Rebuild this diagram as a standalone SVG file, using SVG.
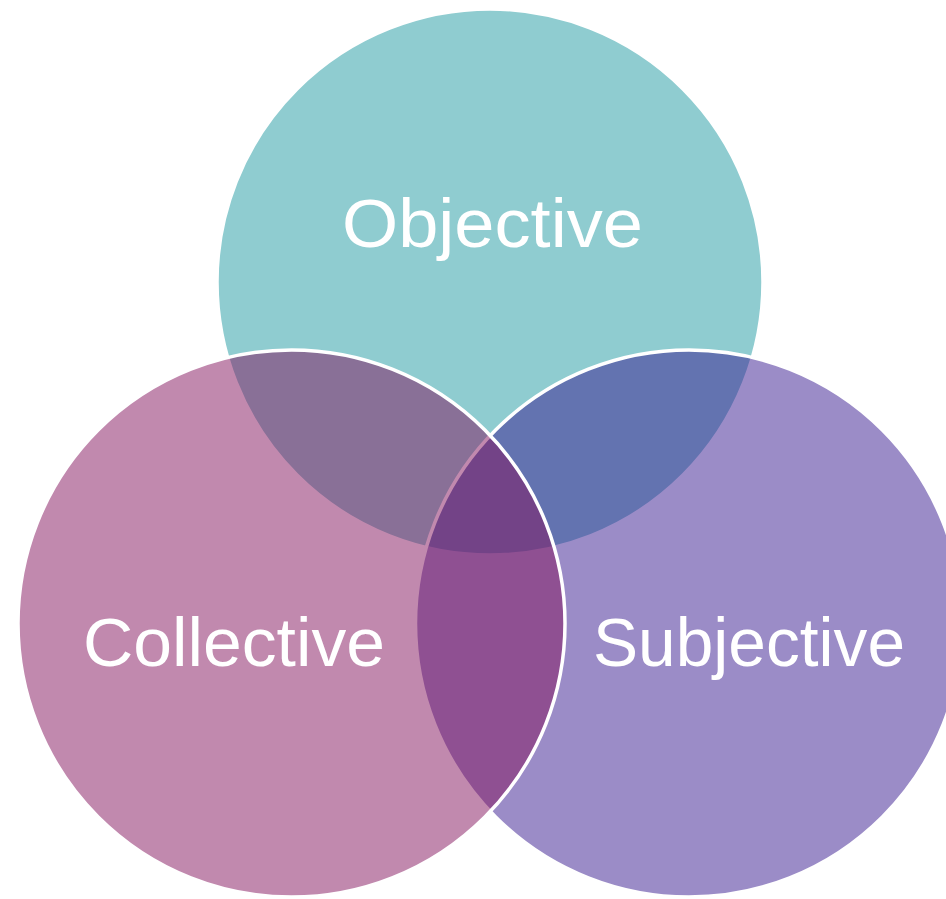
<svg xmlns="http://www.w3.org/2000/svg" width="946" height="899" viewBox="0 0 946 899">
  <style>
    .ring { stroke: #FFFFFF; stroke-width: 3.5; }
    .lbl { font-family: "Liberation Sans", Arial, sans-serif; font-size: 68px; fill: #FFFFFF; text-anchor: middle; }
  </style>
  <rect width="946" height="899" fill="#FFFFFF"/>
  <g id="connectors"></g>
  <g id="node-objective">
    <circle class="ring" cx="490" cy="282" r="273" fill="#8FCCD0"/>
  </g>
  <g id="node-subjective">
    <circle class="ring" cx="689" cy="623.5" r="273.5" fill="#37198F" fill-opacity="0.5"/>
  </g>
  <g id="node-collective">
    <circle class="ring" cx="291.5" cy="623.5" r="273.5" fill="#83135D" fill-opacity="0.5"/>
  </g>
  <g id="labels">
    <text class="lbl" x="492.5" y="247" textLength="301" lengthAdjust="spacingAndGlyphs">Objective</text>
    <text class="lbl" x="234" y="666" textLength="302" lengthAdjust="spacingAndGlyphs">Collective</text>
    <text class="lbl" x="749" y="666" textLength="312" lengthAdjust="spacingAndGlyphs">Subjective</text>
  </g>
</svg>
